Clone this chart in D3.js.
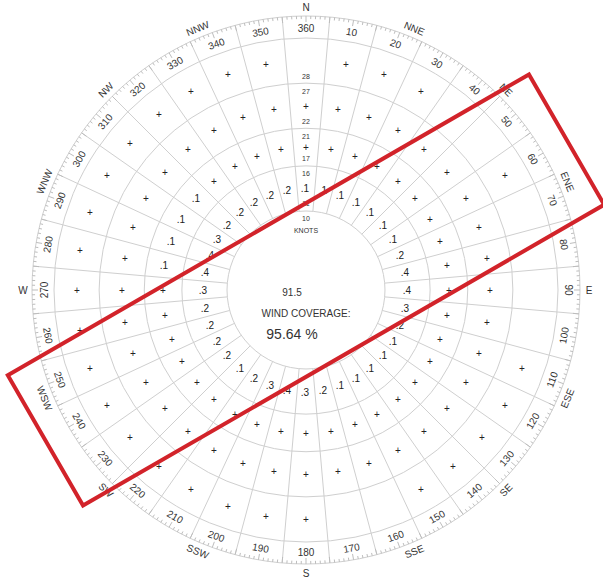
<!DOCTYPE html>
<html>
<head>
<meta charset="utf-8">
<script src="https://cdn.jsdelivr.net/npm/d3@7"></script>
<style>
  body { margin: 0; background: #fff; }
  text { font-family: "Liberation Sans", Arial, sans-serif; fill: #333; }
  text.val { fill: #222; }
</style>
</head>
<body>
<svg id="chart"></svg>
<script>
// wind directions (deg true) and speed bands (knots)
const directions = d3.range(10, 361, 10);
const bandEdges = [10.5, 16.5, 21.5, 27.5, 33.5];
const bandEdgeLabels = [['10', '11'], ['16', '17'], ['21', '22'], ['27', '28']];

// percent of observations per direction, one list per speed band ('+' = trace)
const band11to16 = ['.1', '.1', '.1', '.1', '.1', '.1', '.2', '.4', '.4', '.3', '.2', '.1',
  '.1', '.1', '.1', '.1', '.2', '.3', '.4', '.3', '.2', '.1', '.2', '.2',
  '.2', '.2', '.3', '.4', '.4', '.3', '.2', '.2', '.2', '.2', '.2', '.1'];
const band17to21 = ['+', '+', '+', '+', '+', '+', '+', '+', '+', '+', '+', '+',
  '+', '+', '+', '+', '+', '+', '+', '+', '+', '+', '+', '+',
  '+', '+', '+', '.1', '.1', '.1', '.1', '+', '+', '+', '+', '+'];
const band22to27 = ['+', '+', '+', '+', '+', '+', '+', '+', '+', '+', '+', '+',
  '+', '+', '+', '+', '+', '+', '+', '+', '+', '+', '+', '+',
  '+', '+', '+', '+', '+', '+', '+', '+', '+', '+', '+', '+'];
const band28plus = ['+', '+', '+', '', '', '+', '', '', '', '', '+', '+',
  '+', '+', '+', '', '', '+', '+', '+', '+', '+', '+', '+',
  '+', '+', '+', '+', '+', '+', '+', '+', '+', '+', '+', ''];
const bands = [band11to16, band17to21, band22to27, band28plus];

const compassPoints = ['N', 'NNE', 'NE', 'ENE', 'E', 'ESE', 'SE', 'SSE',
  'S', 'SSW', 'SW', 'WSW', 'W', 'WNW', 'NW', 'NNW'];
const calmPercent = '91.5';
const coverage = '95.64 %';

// runway crosswind box
const runwayHeading = 60;
const crosswindLimit = 10;
const boxHalfLength = 40;

const width = 603, height = 577;
const cx = 306, cy = 290;
const tickR = 274;
const degLabelR = 262;
const compassR = 283;

const r = d3.scaleLinear().domain([0, bandEdges[bandEdges.length - 1]]).range([0, 252]);
const rad = a => a * Math.PI / 180;
const px = (a, rr) => rr * Math.sin(rad(a));
const py = (a, rr) => -rr * Math.cos(rad(a));
const flip = a => (a > 90 && a < 270 ? a - 180 : a);

const svg = d3.select('#chart').attr('width', width).attr('height', height);
const g = svg.append('g').attr('transform', `translate(${cx},${cy})`);

// rings
g.selectAll('circle.ring').data(bandEdges).enter().append('circle')
  .attr('class', 'ring')
  .attr('r', d => r(d))
  .attr('fill', 'none').attr('stroke', '#cfcfcf').attr('stroke-width', 1);
g.append('circle').attr('r', tickR)
  .attr('fill', 'none').attr('stroke', '#cfcfcf').attr('stroke-width', 1);

// sector boundaries
g.selectAll('line.spoke').data(directions).enter().append('line')
  .attr('class', 'spoke')
  .attr('x1', d => px(d - 5, r(bandEdges[0]))).attr('y1', d => py(d - 5, r(bandEdges[0])))
  .attr('x2', d => px(d - 5, tickR)).attr('y2', d => py(d - 5, tickR))
  .attr('stroke', '#cfcfcf').attr('stroke-width', 1);

// degree ticks
g.selectAll('line.tick').data(d3.range(0, 360, 1)).enter().append('line')
  .attr('class', 'tick')
  .attr('x1', d => px(d, tickR)).attr('y1', d => py(d, tickR))
  .attr('x2', d => px(d, tickR - (d % 5 === 0 ? 6 : 3)))
  .attr('y2', d => py(d, tickR - (d % 5 === 0 ? 6 : 3)))
  .attr('stroke', '#bdbdbd').attr('stroke-width', 1);

// degree labels
g.selectAll('text.deg').data(directions).enter().append('text')
  .attr('class', 'deg')
  .attr('transform', d => `translate(${px(d, degLabelR)},${py(d, degLabelR)}) rotate(${flip(d)})`)
  .attr('text-anchor', 'middle').attr('dy', '0.35em')
  .style('font-size', '10px')
  .text(d => d);

// compass points
g.selectAll('text.compass').data(compassPoints).enter().append('text')
  .attr('class', 'compass')
  .attr('transform', (d, i) => {
    const a = i * 22.5;
    const rot = a % 90 === 0 ? 0 : flip(a);
    return `translate(${px(a, compassR)},${py(a, compassR)}) rotate(${rot})`;
  })
  .attr('text-anchor', 'middle').attr('dy', '0.35em')
  .style('font-size', '10px')
  .text(d => d);

// cell values
bands.forEach((vals, bi) => {
  const mid = r((bandEdges[bi] + bandEdges[bi + 1]) / 2);
  g.selectAll(`text.band${bi}`).data(directions).enter().append('text')
    .attr('class', `val band${bi}`)
    .attr('x', (d, i) => Math.round(px(d, mid)) + (vals[i] === '+' ? 0 : -1))
    .attr('y', (d, i) => Math.round(py(d, mid)))
    .attr('text-anchor', 'middle').attr('dy', '0.35em')
    .style('font-size', '10px')
    .text((d, i) => vals[i]);
});

// speed band labels along north
bandEdgeLabels.forEach((pair, i) => {
  const rr = r(bandEdges[i]);
  g.append('text').attr('x', 0).attr('y', -rr + 8).attr('text-anchor', 'middle')
    .attr('dy', '0.35em').style('font-size', '7px').text(pair[0]);
  g.append('text').attr('x', 0).attr('y', -rr - 7).attr('text-anchor', 'middle')
    .attr('dy', '0.35em').style('font-size', '7px').text(pair[1]);
});
g.append('text').attr('x', 0).attr('y', -r(bandEdges[0]) + 20).attr('text-anchor', 'middle')
  .attr('dy', '0.35em').style('font-size', '7px').text('KNOTS');

// center text
g.append('text').attr('x', -14).attr('y', 2).attr('text-anchor', 'middle')
  .attr('dy', '0.35em').style('font-size', '10px').text(calmPercent);
g.append('text').attr('x', 0).attr('y', 23).attr('text-anchor', 'middle')
  .attr('dy', '0.35em').style('font-size', '10px').text('WIND COVERAGE:');
g.append('text').attr('x', -14).attr('y', 44).attr('text-anchor', 'middle')
  .attr('dy', '0.35em').style('font-size', '14px').text(coverage);

// runway crosswind box
const ux = Math.sin(rad(runwayHeading)), uy = -Math.cos(rad(runwayHeading));
const vx = -uy, vy = ux;
const L = r(boxHalfLength), W = r(crosswindLimit);
const corners = [[1, 1], [1, -1], [-1, -1], [-1, 1]]
  .map(([s, t]) => [s * L * ux + t * W * vx, s * L * uy + t * W * vy]);
g.append('polygon')
  .attr('points', corners.map(p => p.join(',')).join(' '))
  .attr('fill', 'none').attr('stroke', '#d2232a').attr('stroke-width', 4);
</script>
</body>
</html>
